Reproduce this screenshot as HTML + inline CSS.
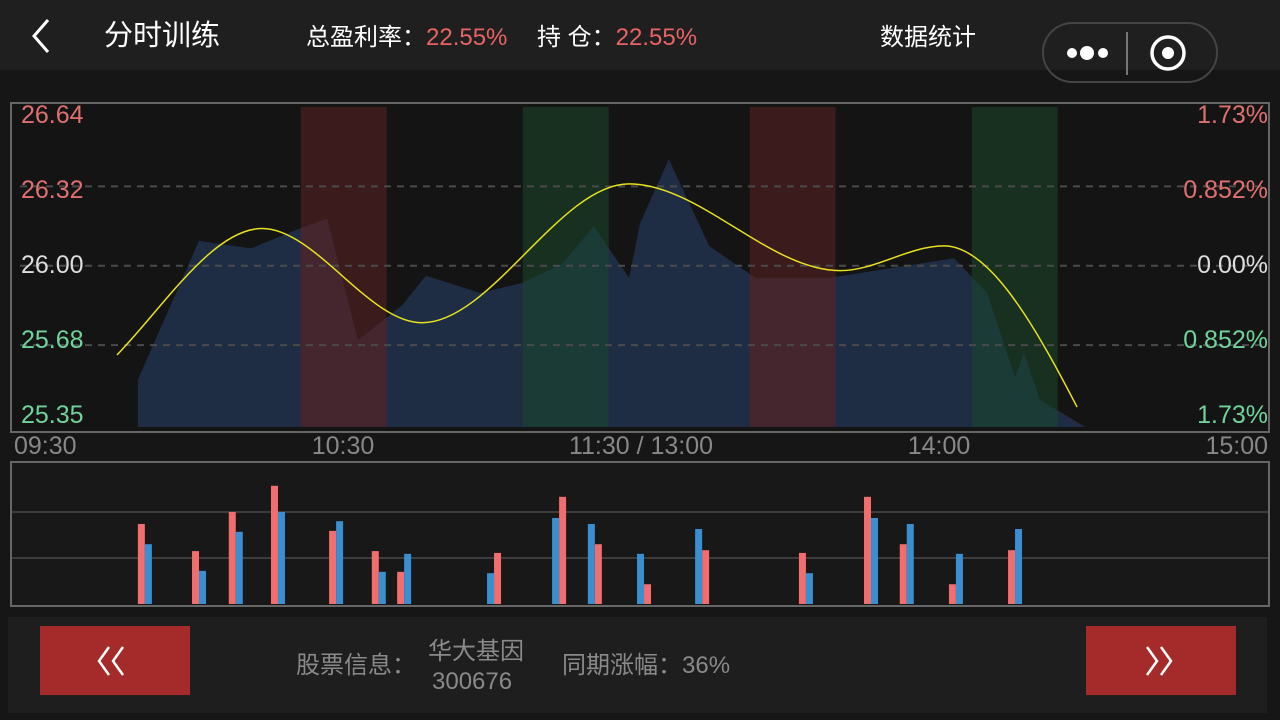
<!DOCTYPE html>
<html><head><meta charset="utf-8">
<style>
*{margin:0;padding:0;box-sizing:border-box}
body{width:1280px;height:720px;background:#161616;overflow:hidden;font-family:"Liberation Sans","Noto Sans CJK SC",sans-serif;position:relative}
.hdr{position:absolute;left:0;top:0;width:1280px;height:70px;background:#1f1f1f}
.t{position:absolute;white-space:nowrap}
</style></head><body>
<div class="hdr"></div>
<svg class="t" style="left:28px;top:18px" width="26" height="36"><polyline points="20,2 6,18 20,34" fill="none" stroke="#fff" stroke-width="3"/></svg>
<div class="t" style="left:104px;top:18px;font-size:29px;line-height:36px;color:#fff">分时训练</div>
<div class="t" style="left:306px;top:23px;font-size:24px;line-height:30px;color:#fff">总盈利率：<span style="color:#e86464">22.55%</span></div>
<div class="t" style="left:537px;top:23px;font-size:24px;line-height:30px;color:#fff">持 仓：<span style="color:#e86464">22.55%</span></div>
<div class="t" style="left:880px;top:23px;font-size:24px;line-height:30px;color:#fff">数据统计</div>
<div class="t" style="left:1042px;top:22px;width:176px;height:61px;border:2px solid #444;border-radius:31px"></div>
<svg class="t" style="left:1042px;top:22px" width="176" height="61">
<circle cx="30" cy="31" r="5" fill="#fff"/><circle cx="45" cy="31" r="7" fill="#fff"/><circle cx="61" cy="31" r="5" fill="#fff"/>
<line x1="85" y1="10" x2="85" y2="53" stroke="#777" stroke-width="2"/>
<circle cx="126" cy="31" r="16" fill="none" stroke="#fff" stroke-width="3.5"/><circle cx="126" cy="31" r="6" fill="#fff"/></svg>

<svg id="chart" class="t" style="left:0;top:0" width="1280" height="615"></svg>

<div class="t" style="left:8px;top:617px;width:1259px;height:96px;background:#1e1e1e"></div>
<div class="t" style="left:40px;top:626px;width:150px;height:69px;background:#a52a2a"></div>
<svg class="t" style="left:95px;top:645px" width="40" height="32"><polyline points="14,2 4,16 14,30" fill="none" stroke="#fff" stroke-width="2.5"/><polyline points="28,2 18,16 28,30" fill="none" stroke="#fff" stroke-width="2.5"/></svg>
<div class="t" style="left:1086px;top:626px;width:150px;height:69px;background:#a52a2a"></div>
<svg class="t" style="left:1143px;top:645px" width="40" height="32"><polyline points="4,2 14,16 4,30" fill="none" stroke="#fff" stroke-width="2.5"/><polyline points="18,2 28,16 18,30" fill="none" stroke="#fff" stroke-width="2.5"/></svg>
<div class="t" style="left:296px;top:651px;font-size:24px;line-height:30px;color:#8a8a8a">股票信息：</div>
<div class="t" style="left:428px;top:637px;font-size:24px;line-height:30px;color:#8a8a8a">华大基因</div>
<div class="t" style="left:432px;top:667px;font-size:24px;line-height:30px;color:#8a8a8a">300676</div>
<div class="t" style="left:562px;top:651px;font-size:24px;line-height:30px;color:#8a8a8a">同期涨幅：36%</div>

<script>
const priceTicks=[26.64,26.32,26.00,25.68,25.35];
const pctTicks=["1.73%","0.852%","0.00%","0.852%","1.73%"];
const tickColors=["#e07070","#e07070","#dddddd","#6fd39a","#6fd39a"];
const timeLabels=["09:30","10:30","11:30 / 13:00","14:00","15:00"];
const timeMinutes=[0,60,120,180,240];
const areaMinutes=[18.7,31.0,41.5,51.3,56.8,63.0,71.9,76.7,87.6,96.0,104.3,110.5,117.6,119.8,125.6,133.7,143.1,157.6,183.0,189.7,195.3,197.1,200.3,209.4];
const areaPrices=[25.54,26.10,26.07,26.15,26.19,25.70,25.84,25.96,25.89,25.93,26.01,26.16,25.95,26.17,26.43,26.08,25.95,25.95,26.03,25.89,25.55,25.65,25.46,25.35];
const lineMinutes=[14.5,43.7,75.9,117.6,160.1,181.0,207.8];
const linePrices=[25.64,26.15,25.77,26.33,25.98,26.08,25.43];
const bandStart=[51.5,96.2,141.9,186.6];
const bandEnd=[68.8,113.5,159.2,203.9];
const bandType=["buy","sell","buy","sell"];
const volMinutes=[18.7,29.6,37.0,45.5,57.2,65.8,70.9,89.0,102.1,109.3,119.2,130.9,151.8,164.9,172.1,182.0,193.9];
const volRed=[1.74,1.15,2.0,2.57,1.59,1.15,0.70,1.11,2.33,1.30,0.43,1.17,1.11,2.33,1.30,0.43,1.17];
const volBlue=[1.30,0.72,1.57,2.0,1.80,0.70,1.09,0.67,1.87,1.74,1.09,1.63,0.67,1.87,1.74,1.09,1.63];
const redFirst=[1,1,1,1,1,1,1,0,0,0,0,0,1,1,1,1,1];

const NS="http://www.w3.org/2000/svg";
const svg=document.getElementById('chart');
const X=m=>45+m*298/60;
const Y=p=>107+(26.64-p)*248;
const VY=v=>604-v*46;
function mk(tag,attrs,parent){const e=document.createElementNS(NS,tag);for(const k in attrs)e.setAttribute(k,attrs[k]);(parent||svg).appendChild(e);return e;}

let f=mk('rect',{x:11,y:103,width:1258,height:329,fill:'#141414',stroke:'#666','stroke-width':2});


let f2=mk('rect',{x:11,y:462,width:1258,height:144,fill:'#181818',stroke:'#666','stroke-width':2});



const bandCol={buy:'#3b1b1b',sell:'#17301f'};
const bandOver={buy:'#45262f',sell:'#1b3b37'};
bandStart.forEach((s,i)=>{
  const r=mk('rect',{x:X(s),y:Y(26.64),width:X(bandEnd[i])-X(s),height:Y(25.35)-Y(26.64),fill:bandCol[bandType[i]]});
  
  
});
let pts=areaMinutes.map((m,i)=>X(m)+','+Y(areaPrices[i]));
pts.unshift(X(areaMinutes[0])+','+Y(25.35));
const poly=pts.join(' ');
const defs=mk('defs',{});
const cp=mk('clipPath',{id:'areaClip'},defs);
mk('polygon',{points:poly},cp);
const area=mk('polygon',{points:poly,fill:'#1f2d44'});


bandStart.forEach((s,i)=>{
  const r=mk('rect',{x:X(s),y:Y(26.64),width:X(bandEnd[i])-X(s),height:Y(25.35)-Y(26.64),fill:bandOver[bandType[i]],'clip-path':'url(#areaClip)'});
  
  
});
[1,2,3].forEach(i=>{
  const g=mk('line',{x1:20,x2:1268,y1:Y(priceTicks[i]),y2:Y(priceTicks[i]),stroke:'#4a4a4a','stroke-width':2,'stroke-dasharray':'7,6'});
  
  
});
(function(){
  const xs=lineMinutes.map(X),ys=linePrices.map(Y),n=xs.length;
  const d=[],m=[];
  for(let i=0;i<n-1;i++)d.push((ys[i+1]-ys[i])/(xs[i+1]-xs[i]));
  m[0]=d[0]*1.2;m[n-1]=d[n-2]*1.6;
  for(let i=1;i<n-1;i++)m[i]=(d[i-1]*d[i]<=0)?0:(d[i-1]+d[i])/2;
  let p='M'+xs[0]+','+ys[0];
  for(let i=0;i<n-1;i++){const h=(xs[i+1]-xs[i])/3;p+=' C'+(xs[i]+h)+','+(ys[i]+m[i]*h)+' '+(xs[i+1]-h)+','+(ys[i+1]-m[i+1]*h)+' '+xs[i+1]+','+ys[i+1];}
  const l=mk('path',{d:p,fill:'none',stroke:'#e8e020','stroke-width':1.5});
  
  
})();
// tick labels spaced evenly inside plot (first at top, last at bottom)
priceTicks.forEach((p,i)=>{
  const ly=114+i*75+9;
  const t=mk('text',{x:21,y:ly,fill:tickColors[i],'font-size':25,'font-family':'Liberation Sans, sans-serif'});
  t.textContent=p.toFixed(2);
  
  
  const r=mk('text',{x:1268,y:ly,fill:tickColors[i],'font-size':25,'text-anchor':'end','font-family':'Liberation Sans, sans-serif'});
  r.textContent=pctTicks[i];
  
  
});
timeLabels.forEach((s,i)=>{
  const anchor=i===0?'start':(i===timeLabels.length-1?'end':'middle');
  const x=i===0?14:(i===timeLabels.length-1?1268:X(timeMinutes[i]));
  const t=mk('text',{x:x,y:454,fill:'#888','font-size':25,'text-anchor':anchor,'font-family':'Liberation Sans, sans-serif'});
  t.textContent=s;
  
  
});
[1,2].forEach(v=>{
  const g=mk('line',{x1:12,x2:1268,y1:VY(v),y2:VY(v),stroke:'#3c3c3c','stroke-width':2});
  
  
});
volMinutes.forEach((m,i)=>{
  const x0=X(m);
  const rx=redFirst[i]?x0:x0+7, bx=redFirst[i]?x0+7:x0;
  const r=mk('rect',{x:rx,y:VY(volRed[i]),width:7,height:604-VY(volRed[i]),fill:'#f26d6d'});
  
  
  const b=mk('rect',{x:bx,y:VY(volBlue[i]),width:7,height:604-VY(volBlue[i]),fill:'#3a8fd0'});
  
  
});
</script>
</body></html>
